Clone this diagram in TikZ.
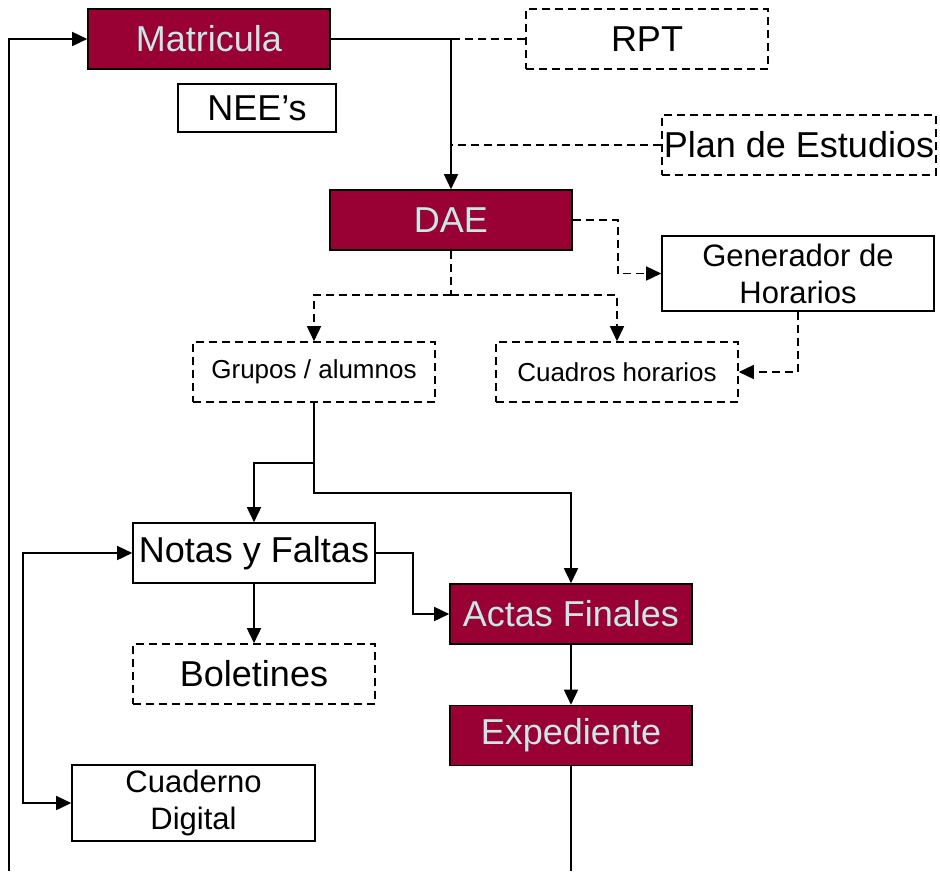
\documentclass[tikz,border=0pt]{standalone}
\usepackage{fontspec}
\setmainfont{Liberation Sans}
\usetikzlibrary{arrows.meta}
\definecolor{granate}{RGB}{153,0,51}
\definecolor{celeste}{RGB}{200,232,232}
\begin{document}
\begin{tikzpicture}[x=1pt,y=-1pt,line width=1.6pt,
    >={Triangle[length=15pt,width=14pt]},
    caja/.style={draw,inner sep=0pt,minimum width=242pt,minimum height=60pt,
        font=\fontsize{36}{40}\selectfont},
    llena/.style={caja,fill=granate,text=celeste},
    rayas/.style={dash pattern=on 8pt off 5pt},
    media/.style={font=\fontsize{31}{37}\selectfont,align=center},
    chica/.style={font=\fontsize{26}{30}\selectfont}]
            \useasboundingbox (0,0) rectangle (940,871);
            \node[llena] (matricula) at (209,39) {Matricula};
            \node[caja,minimum width=158pt,minimum height=48pt] (nees) at (257,108) {NEE’s};
            \node[caja,rayas] (rpt) at (647,39) {RPT};
            \node[caja,rayas,minimum width=274pt] (plan) at (799,145) {Plan de Estudios};
            \node[llena] (dae) at (451,220) {DAE};
            \node[caja,media,minimum width=272pt,minimum height=75pt] (generador) at (798,273.5) {Generador de\\Horarios};
            \node[caja,rayas,chica] (grupos) at (314,372) {Grupos / alumnos};
            \node[caja,rayas,chica] (cuadros) at (617,372) {Cuadros horarios};
            \node[caja] (notas) at (254,553) {Notas y Faltas};
            \node[caja,rayas] (boletines) at (254,674) {Boletines};
            \node[llena] (actas) at (571,614) {Actas Finales};
            \node[llena] (expediente) at (571,735.5) {Expediente};
            \node[caja,media,minimum width=243pt,minimum height=76pt] (cuaderno) at (193.5,803) {Cuaderno\\Digital};
            % puntos de paso
            \coordinate (vuelta) at (9,871);
            \coordinate (reparto) at (451,295);
            \coordinate (g1) at (314,463);
            \coordinate (g2) at (314,493);
            \coordinate (fin) at (expediente.south |- vuelta);
            % conectores
            \draw[->] (vuelta) |- (matricula.west);
            \draw[->] (matricula.east) -| (dae.north);
            \draw[rayas] (rpt.west) -- (dae.north |- rpt.west);
            \draw[rayas] (plan.west) -- (dae.north |- plan.west);
            \draw[rayas,->] (dae.east) -- ++(45,0) |- (generador.west);
            \draw[rayas] (dae.south) -- (reparto);
            \draw[rayas,->] (reparto) -| (grupos.north);
            \draw[rayas,->] (reparto) -| (cuadros.north);
            \draw[rayas,->] (generador.south) |- (cuadros.east);
            \draw[->] (grupos.south) -- (g1) -| (notas.north);
            \draw[->] (g1) -- (g2) -| (actas.north);
            \draw[->] (notas.east) -- ++(37,0) |- (actas.west);
            \draw[->] (notas.south) -- (boletines.north);
            \draw[->] (actas.south) -- (expediente.north);
            \draw[<->] (notas.west) -- ++(-109,0) |- (cuaderno.west);
            \draw (expediente.south) -- (fin);
        \end{tikzpicture}
\end{document}
